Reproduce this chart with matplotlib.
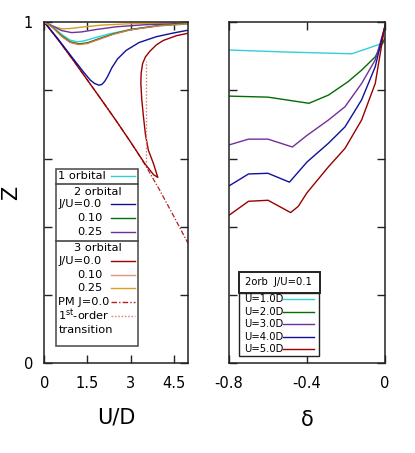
import numpy as np
import matplotlib.pyplot as plt
from matplotlib.patches import Rectangle

# ---- left panel: Z vs U/D ----
U_pm = [0, 0.5, 1.0, 1.5, 2.0, 2.5, 3.0, 3.5, 4.0, 4.5, 5.0]
Z_pm = [1.0, 0.946, 0.889, 0.830, 0.771, 0.711, 0.649, 0.583, 0.510, 0.432, 0.352]

U_3o_j0 = [0, 0.5, 1.0, 1.5, 2.0, 2.5, 3.0, 3.5, 3.8, 3.95,
           3.80, 3.62, 3.52, 3.45, 3.39, 3.36, 3.37, 3.42, 3.52, 3.68, 3.90, 4.14, 4.6, 5.0]
Z_3o_j0 = [1.0, 0.946, 0.889, 0.830, 0.771, 0.711, 0.649, 0.585, 0.553, 0.545,
           0.585, 0.625, 0.670, 0.723, 0.775, 0.820, 0.850, 0.878, 0.898, 0.915, 0.933, 0.946, 0.960, 0.967]

U_2o_j0 = [0, 0.5, 1.0, 1.4, 1.6, 1.75, 1.9, 2.0, 2.1, 2.2, 2.35, 2.55, 2.85, 3.3, 3.9, 4.5, 5.0]
Z_2o_j0 = [1.0, 0.948, 0.893, 0.850, 0.830, 0.820, 0.815, 0.817, 0.826, 0.840, 0.866, 0.892, 0.917, 0.940, 0.957, 0.968, 0.976]

U_1o = [0, 0.3, 0.6, 0.9, 1.15, 1.4, 1.8, 2.3, 3.0, 4.0, 5.0]
Z_1o = [1.0, 0.985, 0.964, 0.947, 0.942, 0.945, 0.955, 0.966, 0.978, 0.989, 0.994]

U_j10 = [0, 0.3, 0.6, 0.9, 1.2, 1.5, 1.9, 2.4, 3.0, 4.0, 5.0]
Z_2o_j10 = [1.0, 0.984, 0.960, 0.942, 0.936, 0.939, 0.951, 0.965, 0.978, 0.990, 0.996]
Z_3o_j10 = [1.0, 0.983, 0.958, 0.940, 0.934, 0.937, 0.949, 0.964, 0.977, 0.989, 0.995]

U_2o_j25 = [0, 0.3, 0.6, 0.95, 1.3, 1.8, 2.5, 3.5, 5.0]
Z_2o_j25 = [1.0, 0.988, 0.975, 0.969, 0.971, 0.978, 0.986, 0.992, 0.996]

U_3o_j25 = [0, 0.3, 0.6, 0.9, 1.3, 2.0, 3.0, 5.0]
Z_3o_j25 = [1.0, 0.988, 0.980, 0.981, 0.985, 0.991, 0.995, 0.998]

U_trans = [3.54, 3.54]
Z_trans = [0.59, 0.885]

# ---- right panel: Z vs delta, 2orb J/U=0.1 ----
d_u1 = [-0.8, -0.5, -0.17, 0.0]
Z_u1 = [0.918, 0.912, 0.907, 0.940]
d_u2 = [-0.8, -0.6, -0.39, -0.29, -0.19, -0.12, -0.05, 0.0]
Z_u2 = [0.783, 0.780, 0.762, 0.786, 0.825, 0.859, 0.898, 0.952]
d_u3 = [-0.8, -0.70, -0.60, -0.475, -0.4, -0.29, -0.205, -0.12, -0.05, 0.0]
Z_u3 = [0.640, 0.657, 0.657, 0.634, 0.668, 0.713, 0.752, 0.820, 0.889, 0.987]
d_u4 = [-0.8, -0.70, -0.60, -0.49, -0.4, -0.29, -0.205, -0.12, -0.05, 0.0]
Z_u4 = [0.520, 0.555, 0.557, 0.531, 0.590, 0.645, 0.693, 0.772, 0.869, 0.989]
d_u5 = [-0.8, -0.70, -0.60, -0.484, -0.445, -0.4, -0.29, -0.205, -0.12, -0.05, 0.0]
Z_u5 = [0.434, 0.475, 0.478, 0.442, 0.460, 0.500, 0.576, 0.630, 0.713, 0.820, 0.991]

u_labels = ['U=1.0D', 'U=2.0D', 'U=3.0D', 'U=4.0D', 'U=5.0D']

c_cyan = '#30d0d8'
c_blue = '#10109a'
c_green = '#006e00'
c_purple = '#70309a'
c_red = '#990000'
c_orange = '#d8784a'
c_gold = '#d8a020'
c_pm = '#b02020'
c_dot = '#d88888'

fig = plt.figure(figsize=(4.15, 4.53), dpi=100)
ax1 = fig.add_axes([0.1067, 0.1976, 0.3463, 0.7538])
ax2 = fig.add_axes([0.5518, 0.1976, 0.3759, 0.7538])

lw = 1.0
ax1.plot(U_pm, Z_pm, color=c_pm, lw=0.9, ls=(0, (4, 1.5, 1, 1.5)))
ax1.plot(U_3o_j0, Z_3o_j0, color=c_red, lw=lw)
ax1.plot(U_trans, Z_trans, color=c_dot, lw=1.0, ls=(0, (1.2, 1.2)))
ax1.plot(U_2o_j0, Z_2o_j0, color=c_blue, lw=lw)
ax1.plot(U_3o_j25, Z_3o_j25, color=c_gold, lw=lw)
ax1.plot(U_2o_j25, Z_2o_j25, color=c_purple, lw=lw)
ax1.plot(U_1o, Z_1o, color=c_cyan, lw=lw)
ax1.plot(U_j10, Z_2o_j10, color=c_green, lw=lw)
ax1.plot(U_j10, Z_3o_j10, color=c_orange, lw=lw)

ax1.set_xlim(0, 5)
ax1.set_ylim(0, 1)
ax1.set_xticks([0, 1.5, 3, 4.5])
ax1.set_xticklabels(['0', '1.5', '3', '4.5'])
ax1.set_yticks([0, 0.2, 0.4, 0.6, 0.8, 1.0])
ax1.set_yticklabels(['0', '', '', '', '', '1'])
ax1.set_xlabel('U/D', fontsize=15, labelpad=12)
ax1.set_ylabel('Z', fontsize=15, labelpad=2)

ax2.plot(d_u1, Z_u1, color=c_cyan, lw=lw)
ax2.plot(d_u2, Z_u2, color=c_green, lw=lw)
ax2.plot(d_u3, Z_u3, color=c_purple, lw=lw)
ax2.plot(d_u4, Z_u4, color=c_blue, lw=lw)
ax2.plot(d_u5, Z_u5, color=c_red, lw=lw)
ax2.set_xlim(-0.8, 0)
ax2.set_ylim(0, 1)
ax2.set_xticks([-0.8, -0.4, 0])
ax2.set_xticklabels(['-0.8', '-0.4', '0'])
ax2.set_yticks([0, 0.2, 0.4, 0.6, 0.8, 1.0])
ax2.set_yticklabels([])
ax2.set_xlabel('δ', fontsize=15, labelpad=14)

for ax in (ax1, ax2):
    ax.tick_params(direction='in', length=6, width=1, top=True, right=True,
                   labelsize=10.5, pad=9, color='#222222')
    ax.tick_params(axis='y', pad=8)
    for s in ax.spines.values():
        s.set_linewidth(1.1)
        s.set_color('#222222')

# ---- left legend (drawn by hand) ----
T1 = ax1.transAxes
ax1.add_patch(Rectangle((0.081, 0.051), 0.569, 0.5185, transform=T1,
                        fill=True, facecolor='white', edgecolor='#555555', lw=1.2, zorder=5))
for ys in (0.5247, 0.3596):
    ax1.plot([0.081, 0.650], [ys, ys], transform=T1, color='#444444', lw=1.2, zorder=6)

fs = 8.2
rows = [
    (0.0974, 0.5499, '1 orbital', 'left', c_cyan, '-'),
    (0.204, 0.5031, '2 orbital', 'left', None, None),
    (0.0974, 0.466, 'J/U=0.0', 'left', c_blue, '-'),
    (0.405, 0.425, '0.10', 'right', c_green, '-'),
    (0.405, 0.386, '0.25', 'right', c_purple, '-'),
    (0.204, 0.339, '3 orbital', 'left', None, None),
    (0.0974, 0.300, 'J/U=0.0', 'left', c_red, '-'),
    (0.405, 0.259, '0.10', 'right', '#e0967a', '-'),
    (0.405, 0.220, '0.25', 'right', c_gold, '-'),
    (0.0974, 0.179, 'PM J=0.0', 'left', c_pm, (0, (4, 1.5, 1, 1.5))),
    (0.0974, 0.140, '1$^{\\rm st}$-order', 'left', c_dot, (0, (1.2, 1.2))),
    (0.0974, 0.098, 'transition', 'left', None, None),
]
for x, y, txt, ha, col, ls in rows:
    ax1.text(x, y, txt, transform=T1, fontsize=fs, ha=ha, va='center', zorder=7)
    if col is not None:
        ax1.plot([0.462, 0.631], [y, y], transform=T1, color=col, lw=1.0, ls=ls, zorder=7)

# ---- right legend ----
T2 = ax2.transAxes
ax2.add_patch(Rectangle((0.064, 0.2064), 0.519, 0.0616, transform=T2,
                        facecolor='white', edgecolor='#222222', lw=1.4, zorder=5))
ax2.text(0.314, 0.2395, '2orb  J/U=0.1', transform=T2, fontsize=7.2,
         ha='center', va='center', zorder=7)
ax2.add_patch(Rectangle((0.064, 0.022), 0.513, 0.1844, transform=T2,
                        facecolor='white', edgecolor='#222222', lw=1.0, zorder=5))
leg_y = [0.188, 0.152, 0.116, 0.0785, 0.0416]
leg_c = [c_cyan, c_green, c_purple, c_blue, c_red]
for y, lab, col in zip(leg_y, u_labels, leg_c):
    ax2.text(0.096, y, lab, transform=T2, fontsize=7.2, ha='left', va='center', zorder=7)
    ax2.plot([0.348, 0.545], [y, y], transform=T2, color=col, lw=1.0, zorder=7)

fig.savefig('out.png', dpi=100)
